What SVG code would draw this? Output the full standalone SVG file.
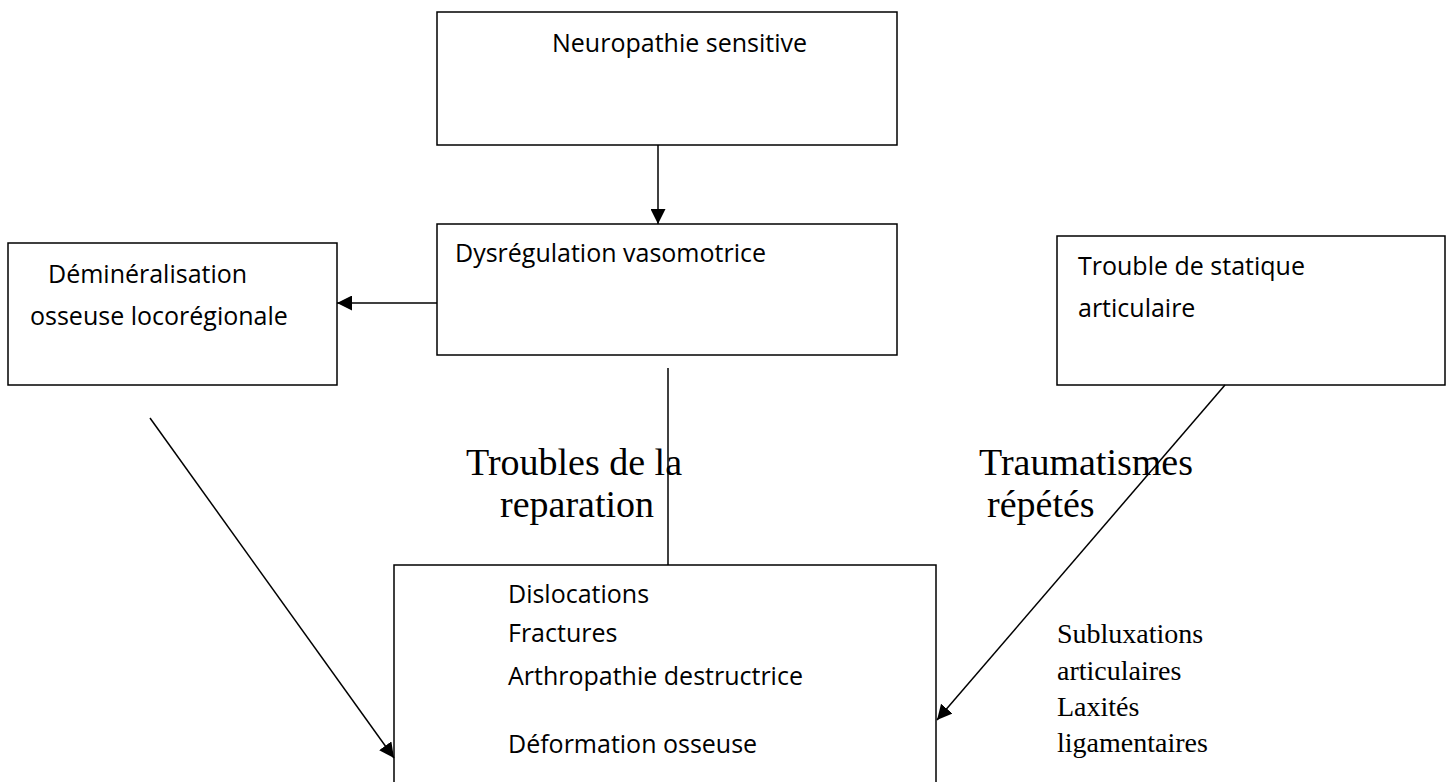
<svg xmlns="http://www.w3.org/2000/svg" width="1452" height="782" viewBox="0 0 1452 782">
<style>
.box{fill:#fff;stroke:#000;stroke-width:1.5}
.c{stroke:#000;stroke-width:1.5;fill:none}
.s{font-family:"Open Sans","Liberation Sans",sans-serif;font-size:25px;fill:#000}
.t{font-family:"Liberation Serif","Times New Roman",serif;font-size:38px;fill:#000}
.r{font-family:"Liberation Serif","Times New Roman",serif;font-size:28px;fill:#000}
</style>
<defs>
<marker id="ah" viewBox="0 0 15 15" refX="15" refY="7.5" markerWidth="15" markerHeight="15" markerUnits="userSpaceOnUse" orient="auto">
<path d="M0,0 L15,7.5 L0,15 z" fill="#000"/>
</marker>
</defs>
<rect width="1452" height="782" fill="#fff"/>
<g id="n1"><rect class="box" x="437" y="12" width="460" height="133"/><text class="s" x="552" y="52">Neuropathie sensitive</text></g>
<g id="n2"><rect class="box" x="437" y="224" width="460" height="131"/><text class="s" x="455" y="262">Dysrégulation vasomotrice</text></g>
<g id="n3"><rect class="box" x="8" y="243" width="329" height="142"/><text class="s" x="48" y="283">Déminéralisation</text><text class="s" x="30" y="325">osseuse locorégionale</text></g>
<g id="n4"><rect class="box" x="1057" y="236" width="388" height="149"/><text class="s" x="1078" y="275">Trouble de statique</text><text class="s" x="1078" y="317">articulaire</text></g>
<g id="n5"><rect class="box" x="394" y="565" width="542" height="230"/>
<text class="s" x="508" y="603">Dislocations</text>
<text class="s" x="508" y="642">Fractures</text>
<text class="s" x="508" y="685">Arthropathie destructrice</text>
<text class="s" x="508" y="753">Déformation osseuse</text></g>
<g id="labels">
<text class="t" x="466" y="475">Troubles de la</text>
<text class="t" x="500" y="517">reparation</text>
<text class="t" x="979" y="475">Traumatismes</text>
<text class="t" x="987" y="517">répétés</text>
<text class="r" x="1057" y="643">Subluxations</text>
<text class="r" x="1057" y="680">articulaires</text>
<text class="r" x="1057" y="716">Laxités</text>
<text class="r" x="1057" y="752">ligamentaires</text>
</g>
<g id="connectors">
<line class="c" x1="658" y1="145" x2="658" y2="224" marker-end="url(#ah)"/>
<line class="c" x1="437" y1="303" x2="337" y2="303" marker-end="url(#ah)"/>
<line class="c" x1="668" y1="368" x2="668" y2="565"/>
<line class="c" x1="150" y1="418" x2="394" y2="758" marker-end="url(#ah)"/>
<line class="c" x1="1225" y1="385" x2="937" y2="720" marker-end="url(#ah)"/>
</g>
</svg>
